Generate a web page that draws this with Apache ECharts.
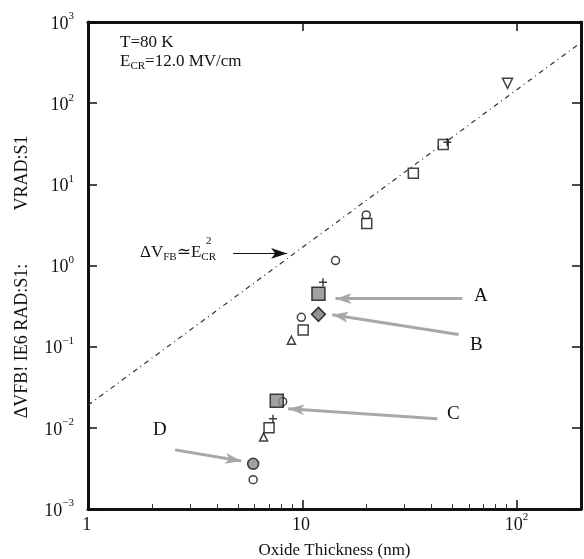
<!DOCTYPE html>
<html>
<head>
<meta charset="utf-8">
<script src="https://cdn.jsdelivr.net/npm/echarts@6/dist/echarts.min.js"></script>
<style>
html, body { margin: 0; padding: 0; background: #fff; }
#main { width: 584px; height: 559px; }
</style>
</head>
<body>
<div id="main"></div>
<script>
// thickness (nm) / shift (V)
var openCircles = [[19.9, 4.2], [14.3, 1.15], [9.9, 0.23], [8.1, 0.021], [5.9, 0.0023]];
var openSquares = [[33, 13.7], [45.5, 31], [20, 3.3], [10.1, 0.16], [7.0, 0.01]];
var triangles = [[8.9, 0.12], [6.6, 0.0077]];
var trianglesDown = [[90.8, 176]];
var pluses = [[47.5, 33], [12.5, 0.62], [7.3, 0.0129]];
var graySquares = [[11.9, 0.45], [7.6, 0.0215]];
var grayDiamonds = [[11.9, 0.25]];
var grayCircles = [[5.9, 0.0036]];
var fitLine = [[1, 0.019], [200, 560]];

// annotation arrows [from, to]
var arrowA = [[55.9, 0.39], [14.3, 0.39]];
var arrowB = [[53.6, 0.141], [13.8, 0.248]];
var arrowC = [[42.7, 0.0129], [8.6, 0.0172]];
var arrowD = [[2.55, 0.00535], [5.19, 0.0039]];
var arrowFit = [[4.76, 1.41], [8.5, 1.41]];

var serif = '"Liberation Serif", "DejaVu Serif", serif';

function xLabel(v) {
    var e = Math.round(Math.log10(v));
    if (Math.abs(Math.log10(v) - e) > 1e-6) return '';
    if (e === 0) return '{b|1}{s| }';
    if (e === 1) return '{b|10}{s| }';
    return '{b|10}{s|' + e + '}';
}
function yLabel(v) {
    var e = Math.round(Math.log10(v));
    if (Math.abs(Math.log10(v) - e) > 1e-6) return '';
    return '{b|10}{s|' + String(e).replace('-', '\u2212') + '}';
}

var richLab = {
    b: { fontFamily: serif, fontSize: 18, color: '#111', verticalAlign: 'bottom' },
    s: { fontFamily: serif, fontSize: 11, color: '#111', verticalAlign: 'top', padding: [0, 0, 11, 0] }
};

var axisLine = { show: true, lineStyle: { color: '#111', width: 3 } };
var tickStyle = { show: true, inside: true, length: 9, lineStyle: { color: '#111', width: 1.5 } };

function scatter(data, symbol, size, fill) {
    return {
        type: 'scatter',
        data: data,
        symbol: symbol,
        symbolSize: size,
        itemStyle: { color: fill, borderColor: '#111', borderWidth: 1.5 },
        z: 5
    };
}

function arrow(pts, color, width, size) {
    return [
        { coord: pts[0], lineStyle: { color: color, width: width, type: 'solid' }, symbolSize: size },
        { coord: pts[1] }
    ];
}

var myChart = echarts.init(document.getElementById('main'));

var option = {
    backgroundColor: '#fff',
    animation: false,
    grid: { left: 88, right: 3, top: 22, bottom: 50, outerBoundsMode: 'none' },
    xAxis: [{
        type: 'log', min: 1, max: 200, logBase: 10,
        axisLine: axisLine,
        axisTick: tickStyle,
        minorTick: { show: true, splitNumber: 9, length: 5, lineStyle: { color: '#333', width: 1 } },
        splitLine: { show: false },
        axisLabel: { formatter: xLabel, rich: richLab, margin: 3 },
        name: 'Oxide Thickness (nm)', nameLocation: 'middle', nameGap: 33,
        nameTextStyle: { fontFamily: serif, fontSize: 17, color: '#111' }
    }, {
        type: 'log', min: 1, max: 200, position: 'top',
        axisLine: axisLine, axisTick: tickStyle,
        axisLabel: { show: false }, splitLine: { show: false }
    }],
    yAxis: [{
        type: 'log', min: 0.001, max: 1000,
        axisLine: axisLine, axisTick: tickStyle,
        splitLine: { show: false },
        axisLabel: { formatter: yLabel, rich: richLab, margin: 14 }
    }, {
        type: 'log', min: 0.001, max: 1000, position: 'right',
        axisLine: axisLine, axisTick: tickStyle,
        axisLabel: { show: false }, splitLine: { show: false }
    }],
    series: [
        {
            type: 'line',
            data: fitLine,
            symbol: 'none',
            lineStyle: { color: '#333', width: 1.2, type: [5, 4, 1, 4] },
            z: 2,
            markLine: {
                silent: true,
                symbol: ['none', 'arrow'],
                label: { show: false },
                data: [
                    arrow(arrowA, '#a8a8a8', 3, 16),
                    arrow(arrowB, '#a8a8a8', 3, 16),
                    arrow(arrowC, '#a8a8a8', 3, 16),
                    arrow(arrowD, '#a8a8a8', 3, 16),
                    arrow(arrowFit, '#111', 1.2, 7)
                ]
            }
        },
        scatter(openCircles, 'circle', 8, '#fff'),
        scatter(openSquares, 'rect', 10, '#fff'),
        scatter(triangles, 'triangle', 8, '#fff'),
        scatter(trianglesDown, 'path://M0,0L10,0L5,9Z', 10, '#fff'),
        scatter(pluses, 'path://M0,5L10,5M5,0L5,10', 8, 'none'),
        scatter(graySquares, 'rect', 13, '#8a8a8a'),
        scatter(grayDiamonds, 'diamond', 14, '#777'),
        scatter(grayCircles, 'circle', 11, '#888')
    ],
    graphic: [
        { type: 'text', left: 120, top: 34, style: { text: 'T=80 K', font: '17px ' + serif, fill: '#111' } },
        { type: 'text', left: 120, top: 53, style: {
            text: '{n|E}{sub|CR}{n|=12.0 MV/cm}',
            rich: {
                n: { fontFamily: serif, fontSize: 17, fill: '#111', verticalAlign: 'top' },
                sub: { fontFamily: serif, fontSize: 11, fill: '#111', verticalAlign: 'bottom', padding: [8, 0, 0, 0] }
            }
        } },
        { type: 'text', left: 140, top: 244, style: {
            text: '{n|\u0394V}{sub|FB}{n|\u2243E}{sub|CR}',
            rich: {
                n: { fontFamily: serif, fontSize: 17, fill: '#111', verticalAlign: 'top' },
                sub: { fontFamily: serif, fontSize: 11, fill: '#111', verticalAlign: 'bottom', padding: [8, 0, 0, 0] }
            }
        } },
        { type: 'text', left: 206, top: 236, style: { text: '2', font: '11px ' + serif, fill: '#111' } },
        { type: 'text', left: 474, top: 287, style: { text: 'A', font: '19px ' + serif, fill: '#111' } },
        { type: 'text', left: 470, top: 336, style: { text: 'B', font: '19px ' + serif, fill: '#111' } },
        { type: 'text', left: 447, top: 405, style: { text: 'C', font: '19px ' + serif, fill: '#111' } },
        { type: 'text', left: 153, top: 421, style: { text: 'D', font: '19px ' + serif, fill: '#111' } },
        { type: 'text', x: 22, y: 341, rotation: Math.PI / 2, style: {
            text: '\u0394VFB! IE6 RAD:S1:', font: '18px ' + serif, fill: '#111',
            align: 'center', verticalAlign: 'middle' } },
        { type: 'text', x: 22, y: 173, rotation: Math.PI / 2, style: {
            text: 'VRAD:S1', font: '18px ' + serif, fill: '#111',
            align: 'center', verticalAlign: 'middle' } }
    ]
};

myChart.setOption(option);
</script>
</body>
</html>
